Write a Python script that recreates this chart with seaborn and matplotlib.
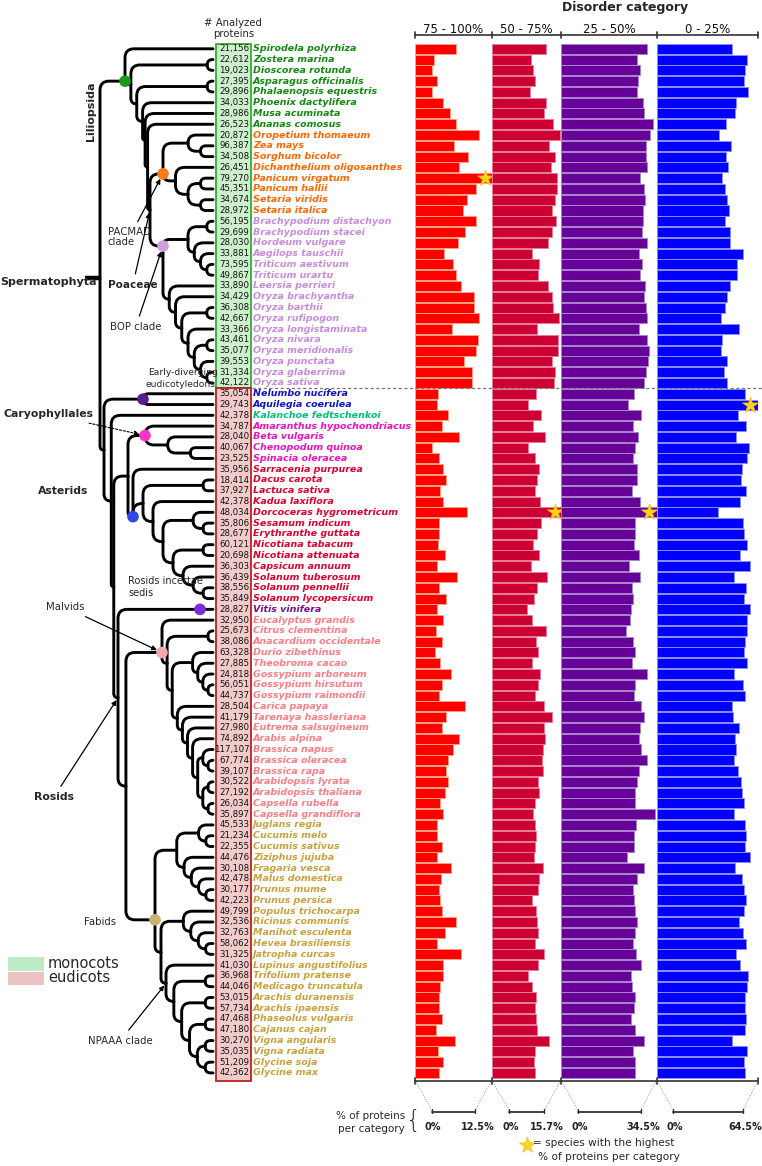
import matplotlib
matplotlib.use("Agg")
import numpy as np
import pandas as pd
import matplotlib.pyplot as plt
import seaborn as sns
from matplotlib.path import Path
from matplotlib.patches import PathPatch, Rectangle

sns.set_style("white")
plt.rcParams["font.family"] = ["DejaVu Sans"]

# ---------------- data ----------------
species = [
    "Spirodela polyrhiza", "Zostera marina", "Dioscorea rotunda", "Asparagus officinalis",
    "Phalaenopsis equestris", "Phoenix dactylifera", "Musa acuminata", "Ananas comosus",
    "Oropetium thomaeum", "Zea mays", "Sorghum bicolor", "Dichanthelium oligosanthes",
    "Panicum virgatum", "Panicum hallii", "Setaria viridis", "Setaria italica",
    "Brachypodium distachyon", "Brachypodium stacei", "Hordeum vulgare", "Aegilops tauschii",
    "Triticum aestivum", "Triticum urartu", "Leersia perrieri", "Oryza brachyantha",
    "Oryza barthii", "Oryza rufipogon", "Oryza longistaminata", "Oryza nivara",
    "Oryza meridionalis", "Oryza punctata", "Oryza glaberrima", "Oryza sativa",
    "Nelumbo nucifera", "Aquilegia coerulea", "Kalanchoe fedtschenkoi", "Amaranthus hypochondriacus",
    "Beta vulgaris", "Chenopodum quinoa", "Spinacia oleracea", "Sarracenia purpurea",
    "Dacus carota", "Lactuca sativa", "Kadua laxiflora", "Dorcoceras hygrometricum",
    "Sesamum indicum", "Erythranthe guttata", "Nicotiana tabacum", "Nicotiana attenuata",
    "Capsicum annuum", "Solanum tuberosum", "Solanum pennellii", "Solanum lycopersicum",
    "Vitis vinifera", "Eucalyptus grandis", "Citrus clementina", "Anacardium occidentale",
    "Durio zibethinus", "Theobroma cacao", "Gossypium arboreum", "Gossypium hirsutum",
    "Gossypium raimondii", "Carica papaya", "Tarenaya hassleriana", "Eutrema salsugineum",
    "Arabis alpina", "Brassica napus", "Brassica oleracea", "Brassica rapa",
    "Arabidopsis lyrata", "Arabidopsis thaliana", "Capsella rubella", "Capsella grandiflora",
    "Juglans regia", "Cucumis melo", "Cucumis sativus", "Ziziphus jujuba",
    "Fragaria vesca", "Malus domestica", "Prunus mume", "Prunus persica",
    "Populus trichocarpa", "Ricinus communis", "Manihot esculenta", "Hevea brasiliensis",
    "Jatropha curcas", "Lupinus angustifolius", "Trifolium pratense", "Medicago truncatula",
    "Arachis duranensis", "Arachis ipaensis", "Phaseolus vulgaris", "Cajanus cajan",
    "Vigna angularis", "Vigna radiata", "Glycine soja", "Glycine max",
]

proteins = [
    21156, 22612, 19023, 27395, 29896, 34033, 28986, 26523,
    20872, 96387, 34508, 26451, 79270, 45351, 34674, 28972,
    56195, 29699, 28030, 33881, 73595, 49867, 33890, 34429,
    36308, 42667, 33366, 43461, 35077, 39553, 31334, 42122,
    35054, 29743, 42378, 34787, 28040, 40067, 23525, 35956,
    18414, 37927, 42378, 48034, 35806, 28677, 60121, 20698,
    36303, 36439, 38556, 35849, 28827, 32950, 25673, 38086,
    63328, 27885, 24818, 56051, 44737, 28504, 41179, 27980,
    74892, 117107, 67774, 39107, 30522, 27192, 26034, 35897,
    45533, 21234, 22355, 44476, 30108, 42478, 30177, 42223,
    49799, 32536, 32763, 58062, 31325, 41030, 36968, 44046,
    53015, 57734, 47468, 47180, 30270, 35035, 51209, 42362,
]

clade = (["monocot"] * 8 + ["pacmad"] * 8 + ["bop"] * 16 + ["early"] * 2 + ["kalanchoe"]
         + ["caryo"] * 4 + ["asterid"] * 13 + ["vitis"] + ["malvid"] * 19 + ["fabid"] * 24)

# % of proteins per disorder category
p75_100 = [
    6.6, 3.1, 2.8, 3.6, 2.8, 4.6, 5.6, 6.6, 10.5, 6.4, 8.6, 7.1, 12.5, 10.0, 8.5, 7.8,
    10.0, 8.1, 7.0, 4.7, 6.1, 6.7, 7.4, 9.6, 9.6, 10.5, 6.0, 10.2, 9.9, 7.9, 9.3, 9.2,
    3.7, 3.5, 5.4, 4.3, 7.2, 2.8, 3.9, 4.6, 5.1, 4.0, 4.5, 8.5, 3.8, 3.8, 3.7, 4.9,
    3.5, 6.8, 3.8, 5.1, 3.6, 4.5, 3.4, 4.3, 3.2, 4.0, 5.9, 4.3, 3.9, 8.1, 5.1, 4.4,
    7.2, 6.2, 5.4, 5.1, 5.3, 4.9, 4.1, 4.5, 3.6, 3.5, 4.4, 3.5, 5.8, 4.2, 3.8, 4.0,
    4.3, 6.6, 4.9, 3.6, 7.5, 4.5, 4.6, 4.1, 3.9, 3.9, 4.3, 3.4, 6.5, 3.7, 4.5, 3.9,
]
p50_75 = [
    12.2, 8.9, 9.4, 9.9, 8.6, 12.3, 11.8, 14.0, 15.5, 12.9, 14.3, 13.4, 14.9, 14.7, 14.3, 13.7,
    14.6, 13.7, 12.8, 9.2, 10.7, 10.6, 12.8, 13.6, 14.0, 15.3, 10.3, 15.0, 15.1, 13.7, 14.4, 14.1,
    10.1, 8.2, 11.2, 9.4, 12.0, 8.3, 9.7, 10.7, 10.3, 9.7, 11.0, 15.7, 11.1, 10.2, 9.3, 10.7,
    8.9, 12.5, 10.2, 9.6, 8.1, 9.1, 12.3, 10.0, 10.6, 9.1, 10.9, 10.6, 9.9, 11.9, 13.7, 11.8,
    12.0, 11.7, 11.5, 11.6, 10.5, 10.8, 9.8, 9.4, 9.8, 10.0, 9.9, 9.5, 11.7, 10.7, 10.4, 9.2,
    10.1, 10.3, 10.4, 9.9, 11.8, 10.6, 8.3, 9.1, 10.0, 9.8, 10.0, 10.2, 12.9, 9.7, 9.6, 9.7,
]
p25_50 = [
    31.0, 27.3, 28.6, 27.8, 27.4, 29.5, 30.1, 33.2, 32.2, 30.5, 30.5, 31.0, 28.6, 29.8, 30.2, 29.7,
    29.5, 29.1, 31.0, 28.0, 29.3, 28.6, 30.3, 29.8, 30.7, 30.9, 28.2, 30.9, 31.7, 31.5, 30.7, 29.8,
    26.4, 24.2, 28.9, 26.1, 27.6, 26.7, 25.8, 27.3, 27.4, 25.6, 28.4, 34.5, 26.7, 26.8, 26.2, 28.1,
    24.5, 28.6, 25.6, 26.0, 25.2, 25.0, 23.6, 26.0, 26.8, 25.6, 31.1, 26.8, 26.3, 28.9, 30.1, 28.5,
    28.0, 29.0, 30.9, 28.2, 27.5, 26.7, 26.8, 34.0, 26.9, 26.3, 26.2, 23.9, 30.1, 27.3, 26.1, 26.2,
    26.7, 27.3, 26.6, 26.1, 27.0, 28.7, 25.4, 25.5, 26.8, 26.4, 25.2, 26.6, 29.9, 25.8, 26.7, 26.7,
]
p0_25 = [
    47.6, 57.3, 56.0, 55.6, 57.7, 50.5, 49.9, 43.8, 39.3, 47.4, 44.2, 45.3, 41.7, 43.1, 44.6, 46.1,
    43.6, 46.5, 46.5, 54.8, 50.8, 51.0, 46.7, 44.4, 43.4, 41.0, 52.0, 41.5, 40.8, 44.4, 42.9, 44.4,
    56.3, 64.5, 51.4, 56.7, 50.5, 58.6, 57.1, 53.9, 53.7, 56.9, 52.7, 38.9, 54.8, 55.6, 57.1, 52.9,
    59.2, 48.9, 56.5, 55.6, 59.2, 57.5, 57.1, 56.3, 55.6, 57.5, 48.9, 54.8, 56.3, 47.8, 48.2, 52.0,
    49.7, 50.1, 49.1, 51.8, 53.3, 54.1, 55.6, 49.1, 55.8, 56.7, 56.0, 59.2, 49.5, 54.1, 55.6, 56.7,
    55.4, 52.4, 54.6, 56.7, 50.5, 52.9, 57.7, 57.5, 55.8, 56.3, 56.9, 56.3, 47.8, 57.1, 55.6, 56.0,
]

category_labels = ["75 - 100%", "50 - 75%", "25 - 50%", "0 - 25%"]
category_max = [12.5, 15.7, 34.5, 64.5]
scale_tick_labels = [("0%", "12.5%"), ("0%", "15.7%"), ("0%", "34.5%"), ("0%", "64.5%")]

# ---------------- styling ----------------
clade_colors = {
    "monocot": "#128A12", "pacmad": "#FF6600", "bop": "#C98BDC", "early": "#1212C8",
    "kalanchoe": "#00C07A", "caryo": "#EE10C0", "asterid": "#E0002E", "vitis": "#7A0F8E",
    "malvid": "#FF7C86", "fabid": "#C9A23C",
}
bar_colors = ["#FF0000", "#CC0033", "#660099", "#0000FF"]
bar_edges = ["#FFA080", "#E87A95", "#A585C8", "#8C8CFF"]

W, H = 762, 1166
ROW0, DY = 48.8, 10.78
AX_TOP, AX_BOT = 35.0, 1081.0
panel_x = [415.3, 491.7, 561.0, 656.7, 758.3]

def row_y(i):
    return ROW0 + i * DY

fig = plt.figure(figsize=(W / 100, H / 100), dpi=100)
bg = fig.add_axes([0, 0, 1, 1])
bg.set_xlim(0, W)
bg.set_ylim(H, 0)
bg.axis("off")

# ---------------- bar panels ----------------
df = pd.DataFrame({"species": species, "c1": p75_100, "c2": p50_75, "c3": p25_50, "c4": p0_25})
ylo = (AX_BOT - ROW0) / DY
yhi = (AX_TOP - ROW0) / DY
for k, col in enumerate(["c1", "c2", "c3", "c4"]):
    x0, x1 = panel_x[k], panel_x[k + 1]
    ax = fig.add_axes([x0 / W, 1 - AX_BOT / H, (x1 - x0) / W, (AX_BOT - AX_TOP) / H])
    sns.barplot(data=df, x=col, y="species", orient="h", color=bar_colors[k],
                edgecolor=bar_edges[k], linewidth=0.7, width=0.93, saturation=1, ax=ax)
    ax.set_xlim(0, category_max[k])
    ax.set_ylim(ylo, yhi)
    ax.axis("off")
    imax = int(np.argmax(df[col].values))
    ax.scatter([df[col].values[imax] * 0.915], [imax], marker="*", s=150,
               color="#FFD21C", edgecolor="#F2B700", linewidths=0.4, zorder=6, clip_on=False)

top = fig.add_axes([0, 0, 1, 1], zorder=10)
top.set_xlim(0, W)
top.set_ylim(H, 0)
top.axis("off")
top.patch.set_alpha(0)

for yy in (AX_TOP, AX_BOT):
    top.plot([panel_x[0], panel_x[-1]], [yy, yy], color="#333333", lw=1.2)
    for xx in panel_x:
        top.plot([xx, xx], [yy - 3, yy + 3], color="#333333", lw=1.2)

for k in range(4):
    top.text((panel_x[k] + panel_x[k + 1]) / 2, 29.5, category_labels[k], ha="center",
             va="center", fontsize=8.5, color="#111111")
top.text(625, 7, "Disorder category", ha="center", va="center", fontsize=9, fontweight="bold")

top.plot([252, 762], [387.5, 387.5], color="#777777", lw=0.9, ls=(0, (2.5, 2)))

scale_bars = [(431.7, 475.0), (509.3, 544.3), (578.3, 640.7), (673.3, 742.7)]
SB_Y = 1111.5
for k, (a, b) in enumerate(scale_bars):
    top.plot([panel_x[k] + 1, a], [AX_BOT + 1, SB_Y - 1], color="#999999", lw=0.7, ls=(0, (1, 1.5)))
    top.plot([panel_x[k + 1] - 1, b], [AX_BOT + 1, SB_Y - 1], color="#999999", lw=0.7, ls=(0, (1, 1.5)))
    top.plot([a, b], [SB_Y, SB_Y], color="#333333", lw=1.3)
    for xx in (a, b):
        top.plot([xx, xx], [SB_Y - 3, SB_Y + 1], color="#333333", lw=1.0)
    top.text(a + 1, 1127, scale_tick_labels[k][0], ha="center", va="center", fontsize=7,
             fontweight="bold", color="#222222")
    top.text(b + 3, 1127, scale_tick_labels[k][1], ha="center", va="center", fontsize=7,
             fontweight="bold", color="#222222")
top.text(405, 1116, "% of proteins", ha="right", va="center", fontsize=7.5)
top.text(405, 1129, "per category", ha="right", va="center", fontsize=7.5)
top.text(414, 1121, "{", ha="center", va="center", fontsize=17, fontweight="light")
top.scatter([527], [1145], marker="*", s=150, color="#FFD21C", edgecolor="#F2B700", linewidths=0.4)
top.text(533, 1143, "= species with the highest", ha="left", va="center", fontsize=7.6)
top.text(609, 1157.5, "% of proteins per category", ha="center", va="center", fontsize=7.6)

# ---------------- names + counts ----------------
bg.add_patch(Rectangle((216, 44), 35, 387.5 - 44, facecolor="#CDEFCD", edgecolor="#2DB22D", lw=1.3, zorder=1))
bg.add_patch(Rectangle((216, 387.5), 35, AX_BOT - 387.5, facecolor="#F1CACA", edgecolor="#B82222", lw=1.3, zorder=1))
for i, (sp, n, c) in enumerate(zip(species, proteins, clade)):
    y = row_y(i)
    bg.text(249.5, y, f"{n:,}", ha="right", va="center", fontsize=6.2, color="#111111", zorder=3)
    bg.text(253, y, sp, ha="left", va="center", fontsize=6.8, fontweight="bold",
            fontstyle="italic", color=clade_colors[c], zorder=3)
bg.text(233, 23, "# Analyzed", ha="center", va="center", fontsize=7.3)
bg.text(234, 34, "proteins", ha="center", va="center", fontsize=7.3)

# ---------------- tree ----------------
def N(*ch, x=None, y=None, name=None):
    return {"c": list(ch), "x": x, "y": y, "name": name}

pacmad = N(N(8, N(9, 10)), N(11, N(N(12, 13), N(14, 15))), x=163, y=row_y(11.6), name="PACMAD")
oryza = N(23, N(N(24, 25), N(26, N(N(27, 28), N(29, N(30, 31))))))
bop = N(N(N(16, 17), N(18, N(19, N(20, 21)))), N(22, oryza), x=163, y=row_y(18.3), name="BOP")
poaceae = N(pacmad, bop, x=150, name="Poaceae")
monocots = N(0, N(N(1, 2), N(N(3, 4), N(5, N(6, N(7, poaceae))))), x=125, y=row_y(3.0), name="Liliopsida")

early = N(32, 33, x=143, name="Early")
caryo = N(35, N(36, N(37, 38)), x=145, name="Caryo")
asterids = N(39, N(N(40, 41), N(42, N(N(43, N(44, 45)), N(N(46, 47), N(48, N(49, N(50, 51))))))),
             x=133, y=row_y(43.4), name="Asterids")
brass = N(63, N(64, N(N(65, N(66, 67)), N(N(68, 69), N(70, 71)))))
malvids = N(53, N(N(54, 55), N(N(56, N(57, N(58, N(59, 60)))), N(61, N(62, brass)))), x=162,
            y=row_y(56.0), name="Malvids")
npaaa = N(85, N(N(86, 87), N(N(88, 89), N(N(90, 91), N(N(92, 93), N(94, 95))))), x=166, name="NPAAA")
fabids = N(N(N(72, N(73, 74)), N(75, N(76, N(77, N(78, 79))))),
           N(N(80, N(81, N(82, N(83, 84)))), npaaa), x=155, y=row_y(80.8), name="Fabids")
rosids = N(52, N(malvids, fabids), x=118, name="Rosids")
eudicots = N(early, N(34, N(N(caryo, asterids), rosids)), x=104, name="Eudicots")
root = N(monocots, eudicots, x=100, y=row_y(21.3), name="Root")

TIP_X = 213.0

def height(n):
    return 0 if isinstance(n, int) else 1 + max(height(c) for c in n["c"])

def min_override(n):
    if isinstance(n, int):
        return TIP_X + 6
    m = TIP_X + 6
    for c in n["c"]:
        if not isinstance(c, int) and c["x"] is not None:
            m = min(m, c["x"])
        m = min(m, min_override(c))
    return m

pos = {}
edges = []

def layout(n, xp, hp):
    if isinstance(n, int):
        return TIP_X, row_y(n)
    h = height(n)
    if n["x"] is not None:
        x = n["x"]
    else:
        x = TIP_X - (TIP_X - xp) * h / hp
        x = min(x, min_override(n) - 5)
        x = max(x, xp + 2.5)
    kids = [layout(c, x, h) for c in n["c"]]
    y = n["y"] if n["y"] is not None else (kids[0][1] + kids[-1][1]) / 2
    for cx, cy in kids:
        edges.append((x, y, cx, cy))
    if n["name"]:
        pos[n["name"]] = (x, y)
    return x, y

rx, ry = layout(root, 80, height(root) + 1)

def rounded(xp, yp, xc, yc, r=9.0):
    r = min(r, abs(yc - yp), max(xc - xp, 0))
    if r < 0.8:
        verts = [(xp, yp), (xp, yc), (xc, yc)]
        codes = [Path.MOVETO, Path.LINETO, Path.LINETO]
    else:
        s = np.sign(yc - yp)
        verts = [(xp, yp), (xp, yc - s * r), (xp, yc), (xp + r, yc), (xc, yc)]
        codes = [Path.MOVETO, Path.LINETO, Path.CURVE3, Path.CURVE3, Path.LINETO]
    return Path(verts, codes)

for (xp, yp, xc, yc) in edges:
    bg.add_patch(PathPatch(rounded(xp, yp, xc, yc), fill=False, edgecolor="black", lw=2.1,
                           capstyle="round", joinstyle="round", zorder=2))
bg.plot([85, rx], [ry, ry], color="black", lw=3.2, solid_capstyle="butt", zorder=2)

dots = {"Liliopsida": "#1C9A1C", "PACMAD": "#FF7A1A", "BOP": "#CFA0E0", "Early": "#5A1A8C",
        "Caryo": "#FF33CC", "Asterids": "#3346EE", "Malvids": "#F4A8A8", "Fabids": "#C8B272"}
for nm, colr in dots.items():
    x, y = pos[nm]
    bg.scatter([x], [y], s=70, color=colr, zorder=4, edgecolor="none")
bg.scatter([200], [row_y(52)], s=70, color="#7C2BD8", zorder=4, edgecolor="none")

# ---------------- clade labels ----------------
def lab(x, y, s, bold=False, size=7.5, **kw):
    bg.text(x, y, s, fontsize=size, fontweight="bold" if bold else "normal", zorder=5, **kw)

arrow = dict(arrowstyle="-|>", color="black", lw=0.9, mutation_scale=7)
lx, ly = pos["Liliopsida"]
lab(91, row_y(5.8), "Liliopsida", bold=True, size=8, rotation=90, ha="center", va="center")
lab(0, ry + 4, "Spermatophyta", bold=True, size=8, ha="left", va="center")
bg.annotate("PACMAD\nclade", xy=pos["PACMAD"], xytext=(108, row_y(17.5)), fontsize=7.3, ha="left",
            va="center", arrowprops=dict(arrow, shrinkB=4), zorder=5, linespacing=1.0)
bg.annotate("Poaceae", xy=pos["Poaceae"], xytext=(108, row_y(21.9)), fontsize=7.5, fontweight="bold",
            ha="left", va="center", arrowprops=dict(arrow, shrinkB=2), zorder=5)
bg.annotate("BOP clade", xy=pos["BOP"], xytext=(110, row_y(25.8)), fontsize=7.3, ha="left", va="center",
            arrowprops=dict(arrow, shrinkB=4), zorder=5)
lab(148, row_y(30.0), "Early-diverging", size=6.6, ha="left", va="center")
lab(146, row_y(31.1), "eudicotyledons", size=6.6, ha="left", va="center")
bg.annotate("Caryophyllales", xy=pos["Caryo"], xytext=(4, row_y(33.9)), fontsize=7.8, fontweight="bold",
            ha="left", va="center", zorder=5,
            arrowprops=dict(arrowstyle="-|>", color="black", lw=0.8, ls=(0, (2, 1.5)), mutation_scale=7, shrinkB=4))
lab(38, row_y(41.0), "Asterids", bold=True, size=7.8, ha="left", va="center")
lab(128, row_y(49.4), "Rosids incertae", size=7.0, ha="left", va="center")
lab(128, row_y(50.5), "sedis", size=7.0, ha="left", va="center")
bg.annotate("Malvids", xy=pos["Malvids"], xytext=(46, row_y(51.8)), fontsize=7.3, ha="left", va="center",
            arrowprops=dict(arrow, shrinkB=4), zorder=5)
bg.annotate("Rosids", xy=pos["Rosids"], xytext=(34, row_y(69.4)), fontsize=7.8, fontweight="bold",
            ha="left", va="center", arrowprops=dict(arrow, shrinkB=2), zorder=5)
lab(84, row_y(81.0), "Fabids", size=7.3, ha="left", va="center")
bg.annotate("NPAAA clade", xy=pos["NPAAA"], xytext=(88, row_y(92)), fontsize=7.3, ha="left", va="center",
            arrowprops=dict(arrow, shrinkB=2), zorder=5)

# legend
bg.add_patch(Rectangle((8, 957), 36, 14, facecolor="#BDEBC6", edgecolor="none"))
bg.add_patch(Rectangle((8, 972), 36, 13, facecolor="#EBC3C3", edgecolor="none"))
lab(48, 963, "monocots", size=10.5, ha="left", va="center")
lab(48, 978, "eudicots", size=10.5, ha="left", va="center")

fig.savefig("out.png", dpi=100)
